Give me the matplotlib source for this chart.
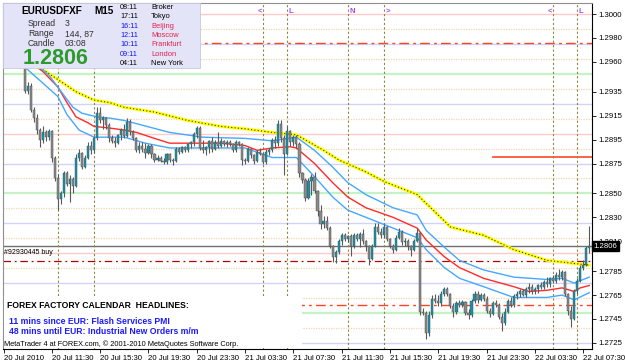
import matplotlib
matplotlib.use("Agg")
import matplotlib.pyplot as plt
import matplotlib.transforms as mtransforms
from matplotlib.patches import Rectangle
import numpy as np

plt.rcParams['font.family'] = ['Liberation Sans', 'DejaVu Sans']

# ----------------------------
# DATA  (prices stored as pips above 1.2700)
# ----------------------------
BASE = 1.2700

opens = [268, 265, 262, 264, 260, 258, 257, 255, 236, 240, 220, 213, 203, 195, 201, 197, 202, 180, 163, 145,
         150, 167, 158, 162, 156, 180, 184, 172, 180, 190, 186, 196, 217, 211, 213, 207, 196, 194, 192, 199,
         203, 198, 210, 201, 196, 186, 190, 187, 184, 190, 183, 178, 180, 177, 176, 183, 178, 177, 187, 185,
         189, 186, 191, 193, 200, 205, 188, 186, 189, 194, 187, 193, 190, 194, 191, 193, 191, 186, 193, 191,
         178, 177, 187, 182, 177, 185, 183, 176, 185, 186, 195, 192, 208, 196, 183, 202, 193, 197, 191, 167,
         161, 146, 160, 164, 152, 135, 124, 127, 121, 106, 97, 101, 110, 115, 112, 114, 106, 115, 112, 116,
         110, 106, 95, 106, 122, 118, 115, 122, 112, 106, 103, 113, 118, 109, 110, 106, 103, 110, 117, 51,
         50, 33, 48, 62, 60, 58, 66, 70, 66, 56, 51, 58, 57, 59, 50, 48, 60, 66, 61, 65,
         62, 52, 49, 58, 57, 47, 42, 51, 60, 57, 64, 66, 68, 65, 70, 72, 68, 70, 73, 72,
         76, 74, 79, 77, 82, 80, 84, 66, 52, 45, 68, 77, 88, 90, 104]
highs = [272, 270, 266, 268, 263, 262, 260, 256, 243, 242, 222, 216, 205, 206, 203, 204, 203, 181, 166, 152,
         169, 169, 165, 164, 183, 187, 185, 182, 193, 194, 198, 222, 222, 215, 214, 209, 199, 197, 200, 205,
         208, 213, 212, 203, 197, 193, 193, 192, 191, 191, 184, 182, 181, 180, 184, 184, 180, 189, 189, 190,
         190, 192, 194, 201, 206, 206, 195, 190, 195, 197, 195, 201, 196, 195, 195, 195, 192, 195, 194, 192,
         180, 189, 188, 183, 186, 188, 184, 187, 188, 196, 198, 211, 211, 199, 206, 203, 199, 199, 193, 168,
         163, 163, 166, 168, 153, 140, 131, 131, 123, 107, 103, 112, 117, 117, 115, 116, 117, 117, 118, 120,
         111, 107, 108, 125, 125, 121, 124, 123, 113, 108, 115, 121, 119, 113, 112, 107, 112, 121, 118, 54,
         52, 52, 65, 66, 65, 68, 72, 72, 67, 58, 60, 61, 61, 60, 53, 62, 68, 68, 67, 67,
         64, 54, 60, 61, 58, 50, 54, 62, 63, 66, 68, 70, 70, 72, 75, 74, 72, 74, 76, 78,
         80, 80, 82, 84, 87, 86, 85, 67, 56, 70, 79, 90, 94, 106, 123]
lows = [262, 260, 258, 259, 257, 257, 256, 234, 233, 218, 210, 200, 189, 192, 194, 195, 176, 160, 136, 141,
        147, 156, 143, 150, 155, 177, 170, 171, 179, 183, 184, 195, 209, 204, 204, 193, 192, 189, 191, 195,
        196, 197, 199, 195, 185, 184, 185, 180, 183, 180, 176, 177, 176, 175, 175, 176, 174, 176, 183, 184,
        185, 185, 188, 190, 196, 186, 184, 182, 184, 185, 186, 188, 189, 190, 189, 190, 185, 185, 190, 174,
        175, 176, 180, 175, 176, 182, 175, 175, 182, 185, 188, 190, 193, 165, 182, 190, 190, 188, 164, 159,
        144, 145, 149, 150, 131, 120, 121, 119, 104, 93, 92, 99, 107, 110, 109, 98, 104, 110, 105, 108,
        102, 90, 94, 105, 116, 113, 113, 110, 104, 100, 102, 112, 107, 106, 103, 98, 102, 109, 48, 48,
        28, 31, 46, 58, 56, 56, 64, 64, 54, 47, 49, 55, 55, 48, 45, 47, 58, 58, 60, 60,
        50, 47, 48, 55, 45, 35, 40, 50, 55, 55, 62, 63, 64, 63, 67, 66, 66, 67, 70, 70,
        72, 72, 75, 75, 78, 78, 64, 48, 38, 44, 66, 76, 86, 89, 100]
closes = [265, 262, 264, 260, 258, 257, 255, 236, 240, 220, 213, 203, 195, 201, 197, 202, 180, 163, 145, 150,
          167, 158, 162, 156, 180, 184, 172, 180, 190, 186, 196, 217, 211, 213, 207, 196, 194, 192, 199, 203,
          198, 210, 201, 196, 186, 190, 187, 184, 190, 183, 178, 180, 177, 176, 183, 178, 177, 187, 185, 189,
          186, 191, 193, 200, 205, 188, 186, 189, 194, 187, 193, 190, 194, 191, 193, 191, 186, 193, 191, 178,
          177, 187, 182, 177, 185, 183, 176, 185, 186, 195, 192, 208, 196, 183, 202, 193, 197, 191, 167, 161,
          146, 160, 164, 152, 135, 124, 127, 121, 106, 97, 101, 110, 115, 112, 114, 106, 115, 112, 116, 110,
          106, 95, 106, 122, 118, 115, 122, 112, 106, 103, 113, 118, 109, 110, 106, 103, 110, 117, 51, 50,
          33, 48, 62, 60, 58, 66, 70, 66, 56, 51, 58, 57, 59, 50, 48, 60, 66, 61, 65, 62,
          52, 49, 58, 57, 47, 42, 51, 60, 57, 64, 66, 68, 65, 70, 72, 68, 70, 73, 72, 76,
          74, 79, 77, 82, 80, 84, 66, 52, 45, 68, 77, 88, 90, 104, 106]

# moving average readings (bar index, pips)
slow_ma_bars = [6, 14, 24, 30, 35, 40, 50, 61, 72, 80, 89, 97, 106, 111, 120, 126, 137, 148, 151, 159, 169, 180, 187, 194]
slow_ma_vals = [262, 252, 235, 228, 226, 222, 218, 211, 206, 204, 201, 199, 186, 178, 168, 160, 149, 122, 120, 115, 103, 94, 92, 90]

fast_ma_bars = [6, 13, 18, 21, 24, 28, 30, 34, 40, 44, 50, 55, 61, 72, 80, 84, 89, 95, 97, 103, 109, 114, 120, 129, 137,
                140, 146, 151, 159, 169, 174, 180, 185, 189, 191, 194]
fast_ma_vals = [266, 252, 239, 226, 214, 209, 206, 205, 203, 201, 196, 192, 192, 192, 190, 186, 188, 189, 188, 175, 159,
                147, 138, 130, 121, 111, 97, 88, 79, 72, 68, 69, 71, 68, 71, 73]

upper_band_bars = [6, 15, 20, 23, 26, 31, 35, 40, 49, 55, 66, 80, 89, 97, 103, 109, 114, 120, 129, 137, 140, 146, 151,
                   159, 169, 180, 185, 189, 194]
upper_band_vals = [268, 249, 232, 222, 217, 214, 213, 211, 205, 201, 197, 196, 194, 197, 186, 172, 159, 149, 138, 132,
                   119, 105, 94, 86, 80, 78, 79, 75, 80]

lower_band_bars = [6, 18, 21, 25, 30, 34, 40, 47, 55, 66, 80, 89, 97, 103, 109, 114, 120, 129, 137, 140, 146, 151, 159,
                   169, 180, 185, 189, 194]
lower_band_vals = [258, 231, 216, 203, 197, 197, 197, 192, 188, 188, 188, 180, 180, 164, 147, 136, 130, 121, 113, 103,
                   88, 79, 72, 63, 63, 65, 61, 67]

# quarter-figure levels and other chart objects
levels = [1.3000, 1.29875, 1.2975, 1.29625, 1.2950, 1.29375, 1.2925, 1.29125, 1.2900, 1.28875, 1.2875, 1.28625,
          1.2850, 1.28375, 1.2825, 1.28125, 1.2800, 1.27875, 1.2775, 1.27625, 1.2750, 1.27375, 1.2725]
pivot_lines = [1.29758, 1.27567]
order_price = 1.27935
order_label = "#92930445 buy"
target_price = 1.28804
target_start_bar = 162
bid = 1.2806

session_bars = [18, 30, 86, 94, 114, 126, 182, 190]
session_marks = ["", "", "<", "L", "N", ">", "<", "L"]   # first two sit under the info panel

time_labels = ["20 Jul 2010", "20 Jul 11:30", "20 Jul 15:30", "20 Jul 19:30", "20 Jul 23:30", "21 Jul 03:30",
               "21 Jul 07:30", "21 Jul 11:30", "21 Jul 15:30", "21 Jul 19:30", "21 Jul 23:30", "22 Jul 03:30",
               "22 Jul 07:30"]
bars_per_label = 16

price_ticks = [1.3000, 1.2980, 1.2960, 1.2935, 1.2915, 1.2895, 1.2875, 1.2850, 1.2830, 1.2810, 1.2785, 1.2765,
               1.2745, 1.2725]

clock_times = ["08:11", "17:11", "16:11", "12:11", "10:11", "09:11", "04:11"]
clock_cities = ["Broker", "Tokyo", "Beijing", "Moscow", "Frankfurt", "London", "New York"]

headlines = ["11 mins since EUR: Flash Services PMI", "48 mins until EUR: Industrial New Orders m/m"]

# ----------------------------
# FIGURE
# ----------------------------
W, H = 625, 364
fig = plt.figure(figsize=(W / 100, H / 100), dpi=100)
fig.patch.set_facecolor("white")
ax = fig.add_axes([3 / W, 15 / H, 589 / W, 346 / H])
ax.set_xlim(-0.17, 194.9)
ax.set_ylim(1.27199, 1.30092)


def p(v):
    return BASE + np.asarray(v, dtype=float) / 10000.0


def fpos(x, y):
    return x / W, 1 - y / H


# quarter levels
for lv in levels:
    pips = int(round(lv * 10000)) % 100
    if pips == 0:
        ax.axhline(lv, color="#ffcaca", lw=1.0, zorder=1)
    elif pips == 50:
        ax.axhline(lv, color="#c4f2c4", lw=1.6, zorder=1)
    elif pips in (25, 75):
        ax.axhline(lv, color="#d2d2fa", lw=1.0, zorder=1)
    else:
        ax.axhline(lv, color="#f0d8b0", lw=0.9, ls=(0, (1, 1)), zorder=1)

for pv in pivot_lines:
    ax.axhline(pv, color="#ff4422", lw=1.0, ls=(0, (7, 3, 2, 3)), zorder=2)
ax.axhline(order_price, color="#b00000", lw=0.9, ls=(0, (6, 3, 1.5, 3)), zorder=2)
ax.plot([target_start_bar, 195], [target_price, target_price], color="#ff5533", lw=1.3, zorder=2)
ax.axhline(bid, color="#707070", lw=1.0, zorder=2)

# session separators
mark_tr = mtransforms.blended_transform_factory(ax.transData, ax.transAxes)
for b, m in zip(session_bars, session_marks):
    ax.axvline(b, color="#8f8646", lw=0.8, ls=(0, (2, 2)), zorder=2)
    if m:
        ha = "right" if m == "<" else "left"
        ax.text(b + (-0.3 if m == "<" else 0.5), 0.985, m, transform=mark_tr, ha=ha, va="top",
                fontsize=5.5, fontweight="bold", color="#a648ff", zorder=3)

# moving averages
ax.plot(slow_ma_bars, p(slow_ma_vals), color="#ffff00", lw=2.2, zorder=4)
ax.plot(slow_ma_bars, p(slow_ma_vals), color="#303000", lw=0.8, ls=(0, (1, 2)), zorder=4)
ax.plot(fast_ma_bars, p(fast_ma_vals), color="#ff2a2a", lw=1.0, zorder=4)
ax.plot(upper_band_bars, p(upper_band_vals), color="#44a8ff", lw=1.0, zorder=4)
ax.plot(lower_band_bars, p(lower_band_vals), color="#44a8ff", lw=1.0, zorder=4)

# candles
o, hi, lo, c = p(opens), p(highs), p(lows), p(closes)
idx = np.arange(len(c))
up = c >= o
ax.vlines(idx, lo, hi, color="#5a5a5a", lw=0.8, zorder=5)
body = np.maximum(np.abs(c - o), 0.00004)
ax.bar(idx[up], body[up], bottom=o[up], width=0.72, color="#1b8fa6", edgecolor="#3a5a60", lw=0.3, zorder=6)
ax.bar(idx[~up], body[~up], bottom=c[~up], width=0.72, color="#8a8a8a", edgecolor="#4a4a4a", lw=0.3, zorder=6)

ax.text(0.3, order_price + 0.0004, order_label, fontsize=5, color="black", va="bottom", ha="left", zorder=7)

# axes styling
ax.yaxis.tick_right()
ax.set_yticks(price_ticks)
ax.set_yticklabels(["%.4f" % t for t in price_ticks])
ax.set_xticks([k * bars_per_label for k in range(len(time_labels))])
ax.set_xticklabels(time_labels, ha="left")
ax.tick_params(axis="both", direction="out", length=3, width=0.6, labelsize=5.6, pad=1.5, colors="black")
for s in ("left", "top"):
    ax.spines[s].set_color("#909090")
for s in ("right", "bottom"):
    ax.spines[s].set_color("black")
for s in ax.spines.values():
    s.set_linewidth(0.8)

# bid box on price scale (drawn over the 1.2810 label, as in the terminal)
bid_tr = mtransforms.blended_transform_factory(ax.transAxes, ax.transData)
ax.text(1.003, bid, "%.4f" % bid, transform=bid_tr, ha="left", va="center", fontsize=5.6, color="white",
        bbox=dict(boxstyle="square,pad=0.2", fc="black", ec="black"), clip_on=False, zorder=8)

# ----------------------------
# INFO PANEL (top left)
# ----------------------------
fig.patches.append(Rectangle(fpos(3, 68), 197 / W, 65 / H, transform=fig.transFigure,
                             fc="#e4e4f8", ec="#c8c8dc", lw=0.6, zorder=10))
fig.text(*fpos(21, 11), "EURUSDFXF", fontsize=7.2, fontweight="bold", va="center", zorder=11)
fig.text(*fpos(94, 11), "M15", fontsize=7.2, fontweight="bold", va="center", zorder=11)
for k, (lab, val) in enumerate([("Spread", "3"), ("Range", "144, 87"), ("Candle", "03:08")]):
    fig.text(*fpos(28, 24 + 10 * k), lab, fontsize=6.2, color="#303030", va="center", zorder=11)
    fig.text(*fpos(65, 24 + 10 * k), val, fontsize=6.2, color="#303030", va="center", zorder=11)
fig.text(*fpos(23, 59), "%.4f" % bid, fontsize=15.5, fontweight="bold", color="#2e9a2e", va="center", zorder=11)
for k, (tm, city) in enumerate(zip(clock_times, clock_cities)):
    local = 2 <= k <= 5
    fig.text(*fpos(120, 7.5 + 9.35 * k), tm, fontsize=5.2, color="#1010ff" if local else "black",
             va="center", zorder=11)
    fig.text(*fpos(151, 7.5 + 9.35 * k), city, fontsize=5.4, color="#e8204c" if local else "black",
             va="center", zorder=11)

# ----------------------------
# HEADLINES PANEL (bottom left)
# ----------------------------
fig.patches.append(Rectangle(fpos(4, 348), 298 / W, 52 / H, transform=fig.transFigure,
                             fc="white", ec="none", zorder=10))
fig.text(*fpos(7, 306), "FOREX FACTORY CALENDAR  HEADLINES:", fontsize=6.2, fontweight="bold",
         va="center", zorder=11)
for k, line in enumerate(headlines):
    fig.text(*fpos(9, 321 + 11 * k), line, fontsize=6.2, fontweight="bold", color="#1a1aff",
             va="center", zorder=11)
fig.text(*fpos(4, 344), "MetaTrader 4 at FOREX.com, \u00a9 2001-2010 MetaQuotes Software Corp.", fontsize=5.3,
         va="center", zorder=11)

fig.savefig("out.png", dpi=100)
